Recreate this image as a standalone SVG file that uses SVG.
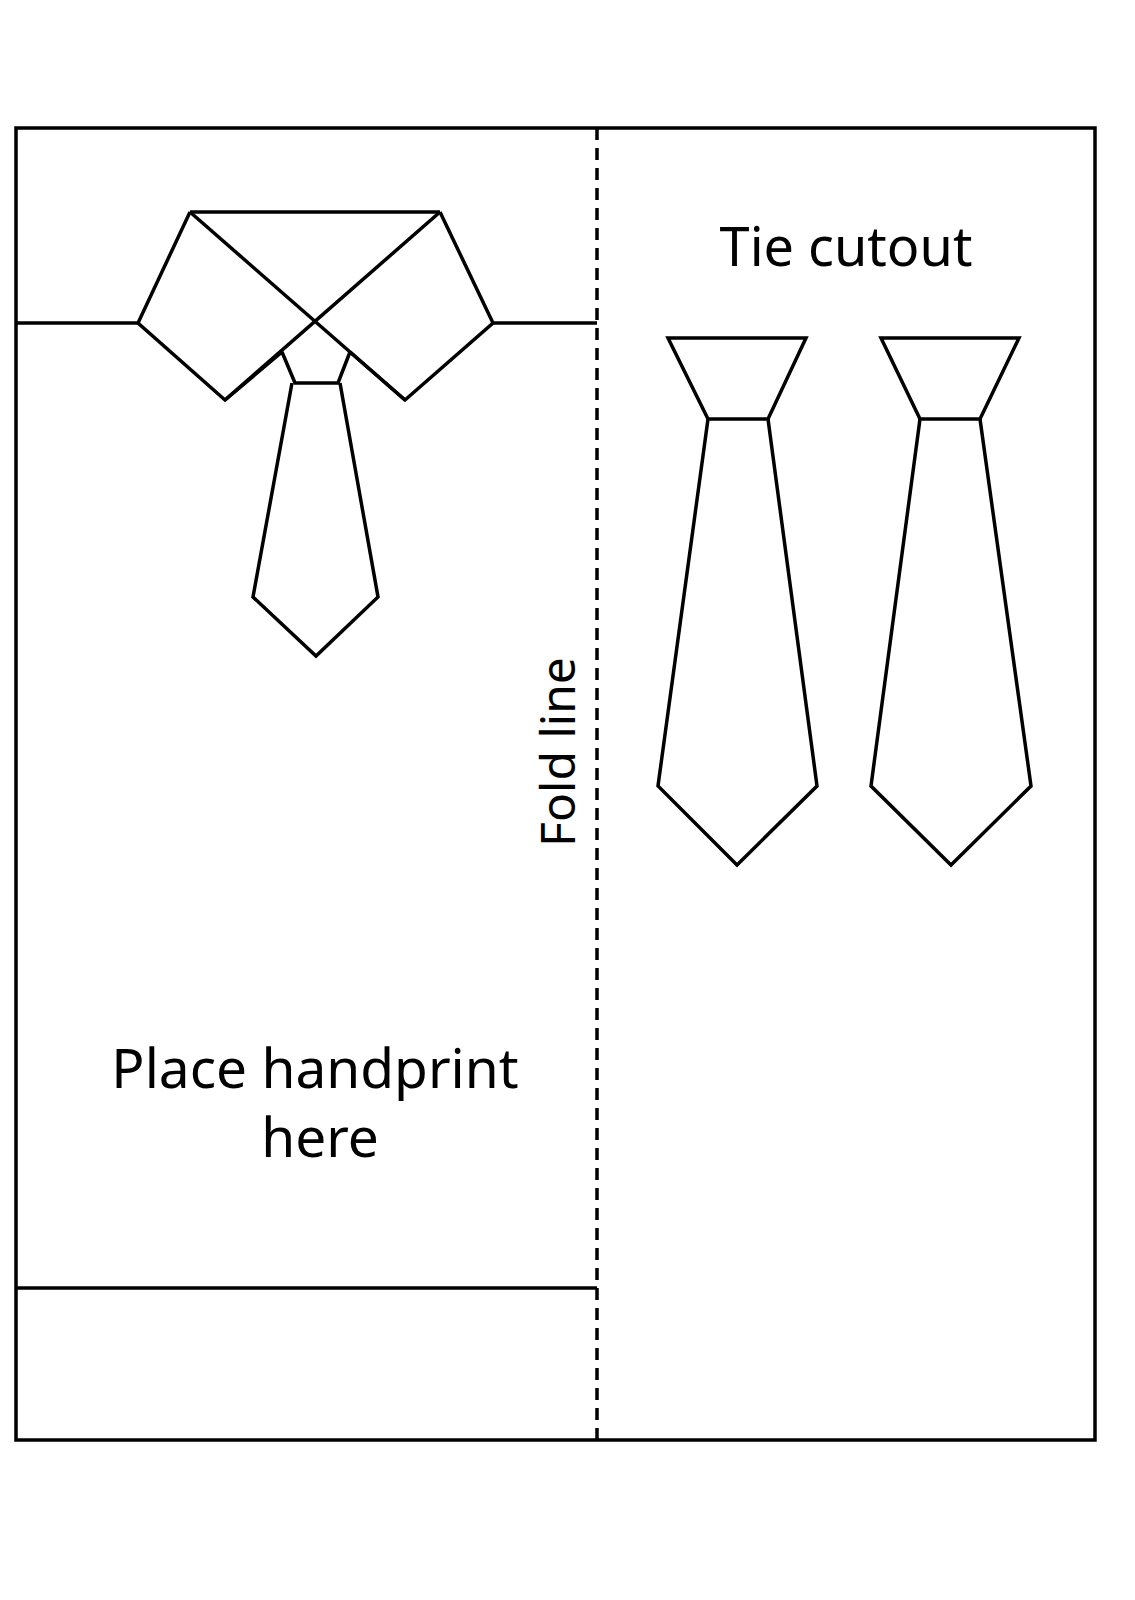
<svg xmlns="http://www.w3.org/2000/svg" width="1135" height="1600" viewBox="0 0 1135 1600">
<style>
.s{fill:none;stroke:#000;stroke-width:3.5;stroke-linejoin:miter}
.t{font-family:"Noto Sans",Roboto,sans-serif;fill:#000;text-anchor:middle}
</style>
<rect width="1135" height="1600" fill="#fff"/>
<g id="card">
<rect class="s" x="16" y="128" width="1079" height="1312"/>
<line class="s" x1="597" y1="128" x2="597" y2="1440" stroke-dasharray="12,8" stroke-width="2.5"/>
<line class="s" x1="16" y1="323" x2="138" y2="323"/>
<line class="s" x1="493" y1="323" x2="597" y2="323"/>
<line class="s" x1="16" y1="1288" x2="597" y2="1288"/>
</g>
<g id="shirt-collar">
<line class="s" x1="190" y1="212" x2="440" y2="212"/>
<polyline class="s" points="190,212 138,323 225,400 282,352"/>
<polyline class="s" points="440,212 493,323 405,400 350,352"/>
<line class="s" x1="190" y1="212" x2="405" y2="400"/>
<line class="s" x1="440" y1="212" x2="225" y2="400"/>
<polyline class="s" points="282,352 295,383 338,383 350,352"/>
<polyline class="s" points="292,383 253,597 316,656 378,597 340,383"/>
</g>
<g id="tie1">
<polygon class="s" points="668,338 806,338 768,419 708,419"/>
<polyline class="s" points="708,419 658,786 737,865 817,786 768,419"/>
</g>
<g id="tie2">
<polygon class="s" points="881,338 1019,338 980,419 920,419"/>
<polyline class="s" points="920,419 871,786 951,865 1031,786 980,419"/>
</g>
<g id="labels">
<text class="t" x="846" y="266" font-size="54">Tie cutout</text>
<text class="t" x="315" y="1088" font-size="55">Place handprint</text>
<text class="t" x="320" y="1157" font-size="55">here</text>
<text class="t" font-size="48" transform="translate(575,752) rotate(-90)">Fold line</text>
</g>
</svg>
